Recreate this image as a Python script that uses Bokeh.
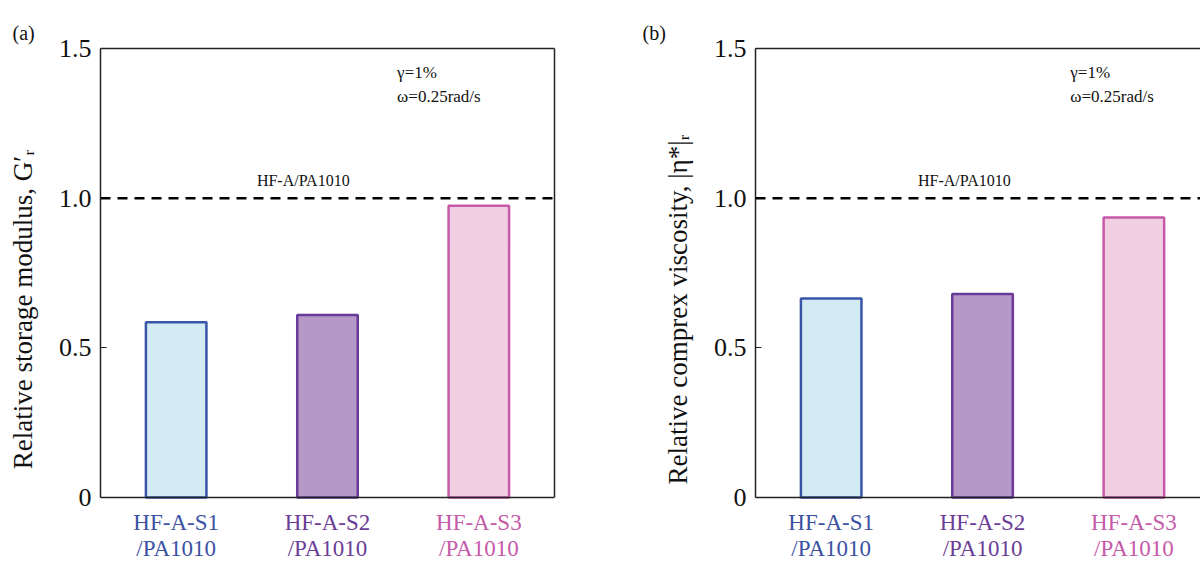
from bokeh.plotting import figure
from bokeh.models import Range1d, FixedTicker, Span, LinearAxis, ColumnDataSource
from bokeh.core.properties import value
from bokeh.layouts import row
from bokeh.embed import file_html
from bokeh.resources import INLINE

# ---- data ----
samples = ["HF-A-S1", "HF-A-S2", "HF-A-S3"]
matrix_label = "/PA1010"
storage_rel = [0.585, 0.61, 0.975]      # (a) relative storage modulus G'r
viscosity_rel = [0.665, 0.68, 0.935]    # (b) relative complex viscosity |eta*|r
ref_value = 1.0
ref_label = "HF-A/PA1010"
y_ticks = [0.0, 0.5, 1.0, 1.5]
y_tick_labels = ["0", "0.5", "1.0", "1.5"]
cond_lines = ["γ=1%", "ω=0.25rad/s"]
fill_colors = ["#d3ecf3", "#b598c7", "#f0cfe2"]
line_colors = ["#3a55a8", "#6a3a99", "#c65aa8"]
label_colors = ["#3b52a3", "#6a3d96", "#c55aa9"]

SERIF = "Liberation Serif"
SERIF_V = value(SERIF)
FIG_H = 563
TOP_B = 48
Y_TOP = 1.5
PX_PER_UNIT = 299.3
PX_PER_CAT = 151.3
Y_BOTTOM = Y_TOP - (FIG_H - TOP_B) / PX_PER_UNIT  # frame reaches below 0 for the labels


def line_axis(bounds):
    return LinearAxis(ticker=FixedTicker(ticks=[]), major_label_text_font_size="0px",
                      axis_line_color="#222222", axis_line_width=1.5,
                      major_tick_line_color=None, minor_tick_line_color=None,
                      bounds=bounds)


def make_panel(values, ylabel, tag, width, mbl, x_end, box_right, tag_offset,
               ref_x, cond_x):
    mbr = width - mbl - int(round(x_end * PX_PER_CAT))
    p = figure(width=width, height=FIG_H, output_backend="svg", toolbar_location=None,
               x_range=Range1d(0, x_end), y_range=Range1d(Y_BOTTOM, Y_TOP),
               min_border_left=mbl, min_border_right=mbr,
               min_border_top=TOP_B, min_border_bottom=0, title=tag)
    p.grid.visible = False
    p.outline_line_color = None
    p.background_fill_color = "white"
    p.border_fill_color = "white"

    p.title.align = "left"
    p.title.offset = tag_offset
    p.title.text_font = SERIF
    p.title.text_font_size = "20px"
    p.title.text_font_style = "normal"
    p.title.text_color = "#111111"

    p.xaxis.visible = False
    p.add_layout(line_axis((0, x_end)), "above")
    if box_right:
        p.add_layout(line_axis((0, Y_TOP)), "right")

    ya = p.yaxis[0]
    ya.bounds = (0, Y_TOP)
    ya.ticker = FixedTicker(ticks=y_ticks)
    ya.major_label_overrides = {t: s for t, s in zip(y_ticks, y_tick_labels)}
    ya.major_tick_in = 6
    ya.major_tick_out = 0
    ya.minor_tick_line_color = None
    ya.axis_line_color = "#222222"
    ya.axis_line_width = 1.5
    ya.major_tick_line_color = "#222222"
    ya.major_label_text_font = SERIF
    ya.major_label_text_font_size = "26px"
    ya.major_label_text_color = "#111111"
    ya.major_label_standoff = 9
    ya.axis_label = ylabel
    ya.axis_label_text_font = SERIF
    ya.axis_label_text_font_style = "normal"
    ya.axis_label_text_font_size = "27px"
    ya.axis_label_text_color = "#111111"
    ya.axis_label_standoff = 18

    xs = [i + 0.5 for i in range(len(samples))]
    src = ColumnDataSource(dict(x=xs, top=values, name=samples,
                                mat=[matrix_label] * len(samples),
                                fill=fill_colors, line=line_colors, lab=label_colors))
    p.vbar(x="x", top="top", width=0.4, bottom=0, source=src,
           fill_color="fill", line_color="line", line_width=2.5)

    # bottom edge of the box (y = 0)
    p.add_layout(Span(location=0, dimension="width", line_color="#222222", line_width=1.5))
    # reference level
    p.add_layout(Span(location=ref_value, dimension="width", line_color="black",
                      line_dash="10 7", line_width=2.5))

    p.text(x=[ref_x], y=[ref_value + 0.06], text=[ref_label], text_font=SERIF_V,
           text_font_size="16px", text_align="center", text_baseline="middle",
           text_color="#111111")
    p.text(x=[cond_x] * len(cond_lines), y=[1.42 - 0.08 * k for k in range(len(cond_lines))],
           text=cond_lines, text_font=SERIF_V, text_font_size="17px", text_align="left",
           text_baseline="middle", text_color="#111111")

    p.text(x="x", y=-0.083, text="name", source=src, text_font=SERIF_V,
           text_font_size="23px", text_align="center", text_baseline="middle",
           text_color="lab")
    p.text(x="x", y=-0.172, text="mat", source=src, text_font=SERIF_V,
           text_font_size="23px", text_align="center", text_baseline="middle",
           text_color="lab")
    return p


pa = make_panel(storage_rel, "Relative storage modulus,  G′ᵣ", "(a)",
                width=600, mbl=100, x_end=3.0, box_right=True, tag_offset=-88,
                ref_x=1.34, cond_x=1.96)
pb = make_panel(viscosity_rel, "Relative comprex viscosity,  |η*|ᵣ", "(b)",
                width=600, mbl=155, x_end=2.94, box_right=False, tag_offset=-113,
                ref_x=1.38, cond_x=2.08)

layout = row(pa, pb)
open("out.html", "w").write(file_html(layout, INLINE))
